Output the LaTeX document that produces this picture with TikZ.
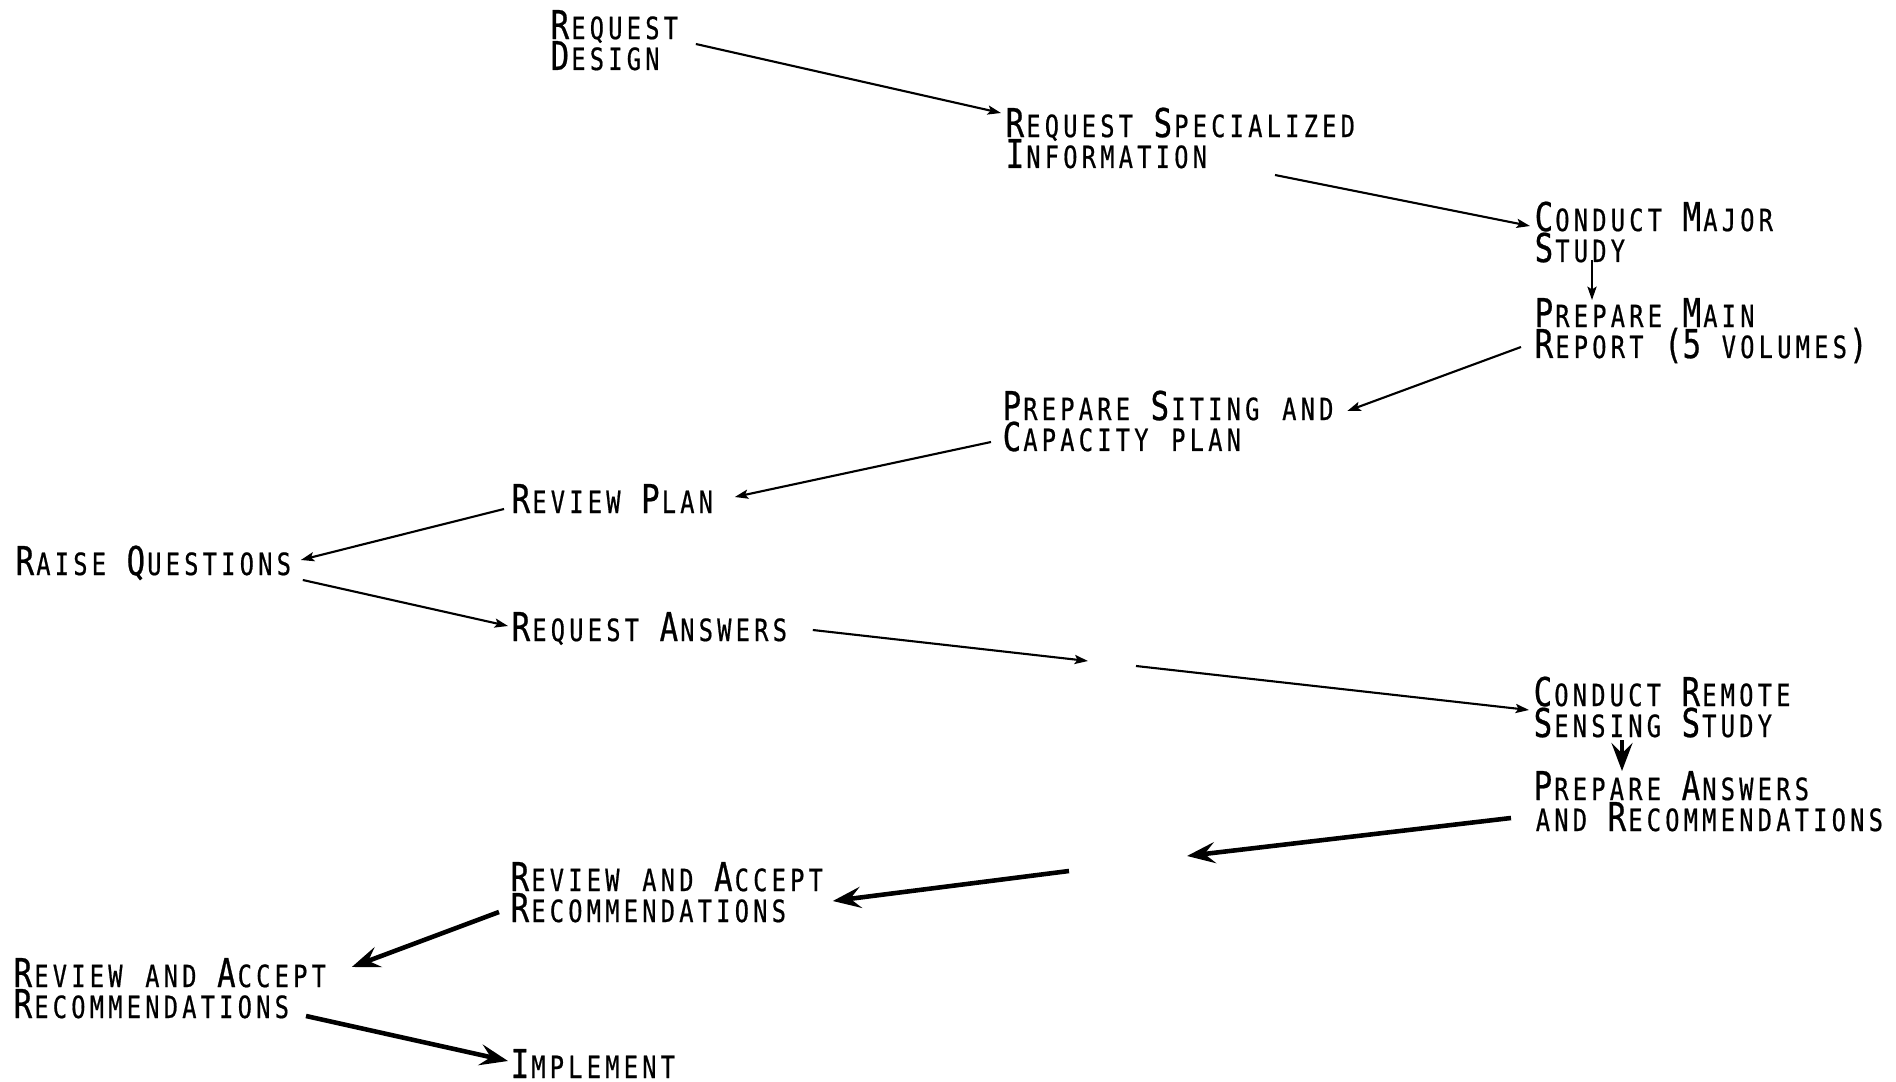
\documentclass[tikz,border=0pt]{standalone}
\usepackage{fontspec}
\setmainfont{DejaVu Sans Mono}[FakeStretch=0.773,FakeBold=0.6]
\usetikzlibrary{calc,arrows.meta}

\newlength\cellw
\ExplSyntaxOn
\NewDocumentCommand\sm{m}
 {
  \settowidth\cellw{M}
  {
   \fontsize{8.7pt}{8.8pt}\selectfont
   \tl_map_inline:nn {#1} {\makebox[\cellw][c]{##1}}
  }
 }
\ExplSyntaxOff
\newcommand\taskfont{\fontsize{11.3pt}{8.8pt}\selectfont\lineskiplimit=-\maxdimen}

\begin{document}
\begin{tikzpicture}[x=0.01cm,y=-0.01cm,
  task/.style={anchor=base west,inner sep=0pt,align=left,font=\taskfont},
  flow/.style={line width=0.6pt,-{Stealth[length=3.8pt,width=2.6pt,inset=0.8pt]}},
  heavy flow/.style={line width=1.3pt,-{Stealth[length=8pt,width=6pt,inset=3pt]}}]

\useasboundingbox (0,0) rectangle (1896,1082);

\node[task] (reqdes) at (550,70) {R\sm{EQUEST}\\D\sm{ESIGN}};
\node[task] (reqspec) at (1005,168) {R\sm{EQUEST} S\sm{PECIALIZED}\\I\sm{NFORMATION}};
\node[task] (major) at (1534,262) {C\sm{ONDUCT} M\sm{AJOR}\\S\sm{TUDY}};
\node[task] (mainrep) at (1534,358) {P\sm{REPARE} M\sm{AIN}\\R\sm{EPORT} (5 \sm{VOLUMES})};
\node[task] (siting) at (1002,451) {P\sm{REPARE} S\sm{ITING} \sm{AND}\\C\sm{APACITY} \sm{PLAN}};
\node[task] (revplan) at (511,513) {R\sm{EVIEW} P\sm{LAN}};
\node[task] (raise) at (15,575) {R\sm{AISE} Q\sm{UESTIONS}};
\node[task] (reqans) at (511,641) {R\sm{EQUEST} A\sm{NSWERS}};
\node[task] (remote) at (1533,737) {C\sm{ONDUCT} R\sm{EMOTE}\\S\sm{ENSING} S\sm{TUDY}};
\node[task] (prepans) at (1533,831) {P\sm{REPARE} A\sm{NSWERS}\\\sm{AND} R\sm{ECOMMENDATIONS}};
\node[task] (revacc) at (510,922) {R\sm{EVIEW} \sm{AND} A\sm{CCEPT}\\R\sm{ECOMMENDATIONS}};
\node[task] (revaccb) at (13,1018) {R\sm{EVIEW} \sm{AND} A\sm{CCEPT}\\R\sm{ECOMMENDATIONS}};
\node[task] (impl) at (510,1078) {I\sm{MPLEMENT}};

\coordinate (gapa) at (1088,661);
\coordinate (gapb) at (1136,666);
\coordinate (gapc) at (1187,856);
\coordinate (gapd) at (1069,871);

\draw[flow] ($(reqdes.base east)+(15,-26)$) -- ($(reqspec.base west)+(-4,-55)$);
\draw[flow] ($(reqspec.base west)+(270,7)$) -- ($(major.base west)+(-4,-36)$);
\draw[flow] ($(major.base west)+(58,-2)$) -- ($(mainrep.base west)+(58,-58)$);
\draw[flow] ($(mainrep.base west)+(-13,-11)$) -- ($(siting.base east)+(11,-40)$);
\draw[flow] ($(siting.base west)+(-11,-9)$) -- ($(revplan.base east)+(19,-16)$);
\draw[flow] ($(revplan.base west)+(-7,-4)$) -- ($(raise.base east)+(7,-15)$);
\draw[flow] ($(raise.base east)+(9,5)$) -- ($(reqans.base west)+(-3,-15)$);
\draw[flow] ($(reqans.base east)+(23,-11)$) -- (gapa);
\draw[flow] (gapb) -- ($(remote.base west)+(-4,-27)$);

\draw[heavy flow,line width=0.9pt] ($(remote.base west)+(89,3)$) -- ($(prepans.base west)+(89,-60)$);
\draw[heavy flow] ($(prepans.base west)+(-22,-13)$) -- (gapc);
\draw[heavy flow] (gapd) -- ($(revacc.base east)+(7,-21)$);
\draw[heavy flow] ($(revacc.base west)+(-11,-10)$) -- ($(revaccb.base east)+(23,-51)$);
\draw[heavy flow] ($(revaccb.base west)+(293,-2)$) -- ($(impl.base west)+(-2,-17)$);

\end{tikzpicture}
\end{document}
